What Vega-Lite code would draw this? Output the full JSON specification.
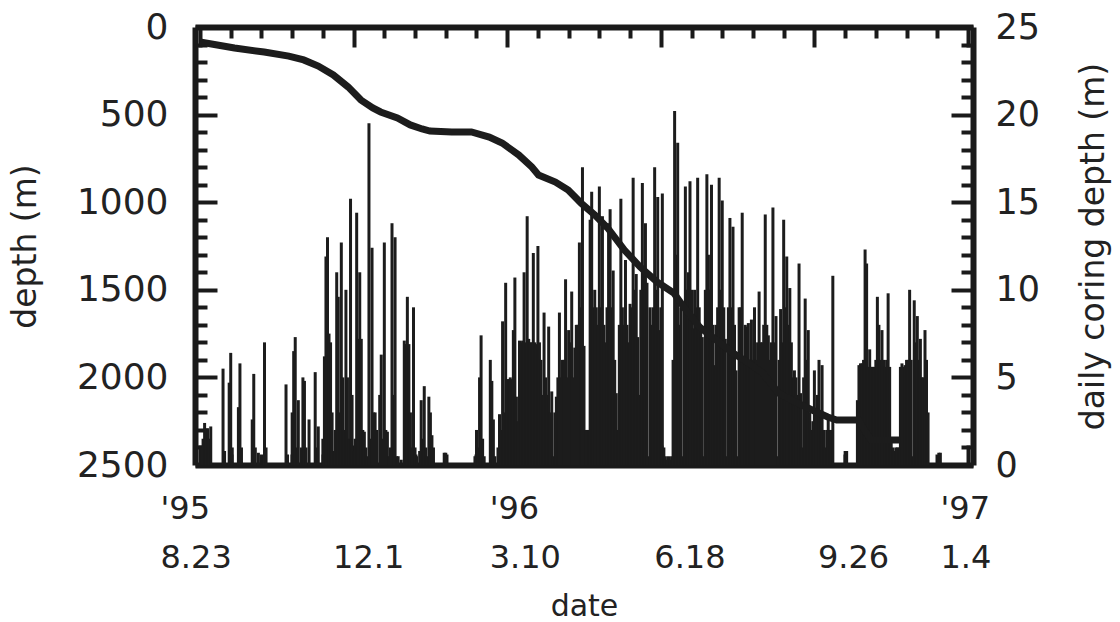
{
  "$schema": "https://vega.github.io/schema/vega-lite/v6.json",
  "width": 778,
  "height": 438,
  "autosize": "none",
  "padding": {"left": 195, "top": 27, "right": 147, "bottom": 157},
  "background": "white",
  "config": {
    "view": {"stroke": null},
    "font": "DejaVu Sans",
    "axis": {
      "grid": false,
      "zindex": 1,
      "domainColor": "#1a1a1a",
      "domainWidth": 6,
      "tickColor": "#1a1a1a",
      "tickWidth": 4,
      "labelFont": "DejaVu Sans",
      "labelColor": "#222222",
      "labelOverlap": false,
      "labelFlush": false,
      "labelBound": false,
      "titleFont": "DejaVu Sans",
      "titleFontWeight": "normal",
      "titleColor": "#222222",
      "titleFontSize": 33
    }
  },
  "datasets": {
    "daily": [
      {"day": 1, "coring": 1.0}, {"day": 2, "coring": 1.5}, {"day": 3, "coring": 2.4}, {"day": 4, "coring": 2.0}, {"day": 5, "coring": 2.1}, {"day": 6, "coring": 1.5}, {"day": 7, "coring": 2.2},
      {"day": 15, "coring": 5.5}, {"day": 16, "coring": 0.8}, {"day": 19, "coring": 4.7}, {"day": 20, "coring": 6.4}, {"day": 21, "coring": 1.0},
      {"day": 25, "coring": 3.3}, {"day": 26, "coring": 5.8}, {"day": 27, "coring": 1.0}, {"day": 34, "coring": 2.6}, {"day": 35, "coring": 5.2}, {"day": 36, "coring": 1.0},
      {"day": 38, "coring": 0.7}, {"day": 42, "coring": 7.0}, {"day": 43, "coring": 1.0},
      {"day": 56, "coring": 4.6}, {"day": 57, "coring": 0.6}, {"day": 60, "coring": 3.0}, {"day": 61, "coring": 6.5}, {"day": 62, "coring": 7.3}, {"day": 63, "coring": 1.0},
      {"day": 64, "coring": 3.7}, {"day": 66, "coring": 1.0}, {"day": 67, "coring": 5.0}, {"day": 68, "coring": 4.8}, {"day": 69, "coring": 1.0}, {"day": 71, "coring": 2.6},
      {"day": 75, "coring": 5.3}, {"day": 76, "coring": 1.0}, {"day": 77, "coring": 2.2}, {"day": 80, "coring": 1.5}, {"day": 81, "coring": 6.2}, {"day": 82, "coring": 11.9},
      {"day": 83, "coring": 13.0}, {"day": 84, "coring": 7.5}, {"day": 85, "coring": 7.0}, {"day": 86, "coring": 3.0}, {"day": 87, "coring": 0.8}, {"day": 88, "coring": 2.0},
      {"day": 89, "coring": 11.0}, {"day": 90, "coring": 9.6}, {"day": 91, "coring": 3.0}, {"day": 92, "coring": 12.7}, {"day": 93, "coring": 5.0}, {"day": 94, "coring": 2.0},
      {"day": 95, "coring": 10.0}, {"day": 96, "coring": 5.0}, {"day": 97, "coring": 1.5}, {"day": 98, "coring": 15.2}, {"day": 99, "coring": 4.0}, {"day": 100, "coring": 0.8},
      {"day": 101, "coring": 1.5}, {"day": 102, "coring": 14.4}, {"day": 103, "coring": 7.2}, {"day": 104, "coring": 11.0}, {"day": 105, "coring": 7.2}, {"day": 106, "coring": 2.0},
      {"day": 107, "coring": 1.9}, {"day": 108, "coring": 1.0}, {"day": 109, "coring": 0.5}, {"day": 110, "coring": 19.5}, {"day": 111, "coring": 1.5}, {"day": 112, "coring": 12.4},
      {"day": 113, "coring": 3.0}, {"day": 114, "coring": 3.0}, {"day": 115, "coring": 2.0}, {"day": 117, "coring": 4.0}, {"day": 118, "coring": 6.3}, {"day": 119, "coring": 1.5},
      {"day": 120, "coring": 12.7}, {"day": 121, "coring": 2.0}, {"day": 122, "coring": 1.9}, {"day": 123, "coring": 0.5}, {"day": 124, "coring": 1.0}, {"day": 125, "coring": 13.8},
      {"day": 126, "coring": 4.0}, {"day": 127, "coring": 13.0}, {"day": 128, "coring": 0.5}, {"day": 129, "coring": 0.5}, {"day": 131, "coring": 0.3}, {"day": 133, "coring": 7.1},
      {"day": 134, "coring": 6.9}, {"day": 135, "coring": 9.6}, {"day": 136, "coring": 6.9}, {"day": 137, "coring": 3.0}, {"day": 138, "coring": 1.0}, {"day": 139, "coring": 9.0},
      {"day": 140, "coring": 1.0}, {"day": 141, "coring": 0.5}, {"day": 143, "coring": 0.8}, {"day": 144, "coring": 3.7}, {"day": 145, "coring": 1.5}, {"day": 146, "coring": 4.5},
      {"day": 147, "coring": 1.0}, {"day": 148, "coring": 0.5}, {"day": 149, "coring": 3.9}, {"day": 150, "coring": 3.0}, {"day": 151, "coring": 1.7}, {"day": 152, "coring": 1.0},
      {"day": 159, "coring": 0.7}, {"day": 160, "coring": 0.7},
      {"day": 179, "coring": 0.5}, {"day": 180, "coring": 2.0}, {"day": 181, "coring": 1.0}, {"day": 182, "coring": 5.0}, {"day": 183, "coring": 7.4}, {"day": 184, "coring": 1.5},
      {"day": 185, "coring": 0.5}, {"day": 189, "coring": 6.0}, {"day": 190, "coring": 4.8}, {"day": 191, "coring": 2.6}, {"day": 192, "coring": 0.5}, {"day": 194, "coring": 1.0},
      {"day": 195, "coring": 2.9}, {"day": 196, "coring": 2.0}, {"day": 197, "coring": 8.2}, {"day": 198, "coring": 3.0}, {"day": 199, "coring": 10.4}, {"day": 200, "coring": 4.9},
      {"day": 201, "coring": 4.9}, {"day": 202, "coring": 5.0}, {"day": 203, "coring": 4.9}, {"day": 204, "coring": 7.7}, {"day": 205, "coring": 10.7}, {"day": 206, "coring": 3.9},
      {"day": 207, "coring": 2.5}, {"day": 208, "coring": 7.1}, {"day": 209, "coring": 7.0}, {"day": 210, "coring": 7.1}, {"day": 211, "coring": 11.0}, {"day": 212, "coring": 7.0},
      {"day": 213, "coring": 14.2}, {"day": 214, "coring": 7.2}, {"day": 215, "coring": 7.0}, {"day": 216, "coring": 7.0}, {"day": 217, "coring": 12.1}, {"day": 218, "coring": 7.0},
      {"day": 219, "coring": 6.9}, {"day": 220, "coring": 12.5}, {"day": 221, "coring": 7.0}, {"day": 222, "coring": 6.0}, {"day": 223, "coring": 4.0}, {"day": 224, "coring": 8.7},
      {"day": 225, "coring": 5.0}, {"day": 226, "coring": 4.0}, {"day": 227, "coring": 7.9}, {"day": 228, "coring": 3.0}, {"day": 229, "coring": 4.2}, {"day": 230, "coring": 0.5},
      {"day": 231, "coring": 3.0}, {"day": 232, "coring": 3.9}, {"day": 233, "coring": 5.0}, {"day": 234, "coring": 8.7}, {"day": 235, "coring": 5.0}, {"day": 236, "coring": 6.0},
      {"day": 237, "coring": 6.0}, {"day": 238, "coring": 10.6}, {"day": 239, "coring": 5.0}, {"day": 240, "coring": 7.7}, {"day": 241, "coring": 7.0}, {"day": 242, "coring": 9.9},
      {"day": 243, "coring": 5.0}, {"day": 244, "coring": 6.7}, {"day": 245, "coring": 8.0}, {"day": 246, "coring": 8.0}, {"day": 247, "coring": 12.7}, {"day": 248, "coring": 9.0},
      {"day": 249, "coring": 17.0}, {"day": 250, "coring": 6.8}, {"day": 251, "coring": 2.0}, {"day": 252, "coring": 2.0}, {"day": 253, "coring": 2.0}, {"day": 254, "coring": 14.0},
      {"day": 255, "coring": 15.6}, {"day": 256, "coring": 9.0}, {"day": 257, "coring": 10.0}, {"day": 258, "coring": 9.0}, {"day": 259, "coring": 8.0}, {"day": 260, "coring": 15.9},
      {"day": 261, "coring": 9.0}, {"day": 262, "coring": 14.2}, {"day": 263, "coring": 8.0}, {"day": 264, "coring": 7.0}, {"day": 265, "coring": 9.0}, {"day": 266, "coring": 13.8},
      {"day": 267, "coring": 14.6}, {"day": 268, "coring": 9.0}, {"day": 269, "coring": 11.1}, {"day": 270, "coring": 6.0}, {"day": 271, "coring": 4.1}, {"day": 272, "coring": 2.0},
      {"day": 273, "coring": 8.0}, {"day": 274, "coring": 15.2}, {"day": 275, "coring": 9.0}, {"day": 276, "coring": 8.0}, {"day": 277, "coring": 11.7}, {"day": 278, "coring": 8.0},
      {"day": 279, "coring": 7.0}, {"day": 280, "coring": 9.2}, {"day": 281, "coring": 9.0}, {"day": 282, "coring": 16.4}, {"day": 283, "coring": 10.0}, {"day": 284, "coring": 10.9},
      {"day": 285, "coring": 7.3}, {"day": 286, "coring": 4.0}, {"day": 287, "coring": 10.0}, {"day": 288, "coring": 16.1}, {"day": 289, "coring": 11.0}, {"day": 290, "coring": 13.8},
      {"day": 291, "coring": 10.4}, {"day": 292, "coring": 0.5}, {"day": 293, "coring": 9.0}, {"day": 294, "coring": 8.0}, {"day": 295, "coring": 9.0}, {"day": 296, "coring": 17.0},
      {"day": 297, "coring": 10.0}, {"day": 298, "coring": 15.3}, {"day": 299, "coring": 7.7}, {"day": 300, "coring": 9.0}, {"day": 301, "coring": 15.5}, {"day": 302, "coring": 1.0},
      {"day": 303, "coring": 0.5}, {"day": 304, "coring": 0.3}, {"day": 305, "coring": 0.5}, {"day": 306, "coring": 0.3}, {"day": 307, "coring": 0.5}, {"day": 308, "coring": 6.0},
      {"day": 309, "coring": 20.2}, {"day": 310, "coring": 12.0}, {"day": 311, "coring": 18.4}, {"day": 312, "coring": 8.0}, {"day": 313, "coring": 9.0}, {"day": 314, "coring": 0.5},
      {"day": 315, "coring": 9.0}, {"day": 316, "coring": 15.9}, {"day": 317, "coring": 10.0}, {"day": 318, "coring": 11.0}, {"day": 319, "coring": 16.2}, {"day": 320, "coring": 10.0},
      {"day": 321, "coring": 7.8}, {"day": 322, "coring": 10.0}, {"day": 323, "coring": 9.0}, {"day": 324, "coring": 16.4}, {"day": 325, "coring": 9.0}, {"day": 326, "coring": 8.0},
      {"day": 327, "coring": 7.3}, {"day": 328, "coring": 0.5}, {"day": 329, "coring": 10.0}, {"day": 330, "coring": 16.6}, {"day": 331, "coring": 12.0}, {"day": 332, "coring": 10.0},
      {"day": 333, "coring": 16.0}, {"day": 334, "coring": 8.0}, {"day": 335, "coring": 5.7}, {"day": 336, "coring": 8.0}, {"day": 337, "coring": 9.0}, {"day": 338, "coring": 16.4},
      {"day": 339, "coring": 10.0}, {"day": 340, "coring": 15.1}, {"day": 341, "coring": 9.0}, {"day": 342, "coring": 7.2}, {"day": 343, "coring": 0.5}, {"day": 344, "coring": 9.0},
      {"day": 345, "coring": 14.1}, {"day": 346, "coring": 9.0}, {"day": 347, "coring": 13.6}, {"day": 348, "coring": 8.0}, {"day": 349, "coring": 5.4}, {"day": 350, "coring": 0.5},
      {"day": 351, "coring": 9.0}, {"day": 352, "coring": 9.0}, {"day": 353, "coring": 14.4}, {"day": 354, "coring": 6.0}, {"day": 355, "coring": 8.0}, {"day": 356, "coring": 7.9},
      {"day": 357, "coring": 8.1}, {"day": 358, "coring": 6.0}, {"day": 359, "coring": 8.3}, {"day": 360, "coring": 6.0}, {"day": 361, "coring": 9.0}, {"day": 362, "coring": 6.0},
      {"day": 363, "coring": 7.0}, {"day": 364, "coring": 9.9}, {"day": 365, "coring": 7.0}, {"day": 366, "coring": 7.0}, {"day": 367, "coring": 8.0}, {"day": 368, "coring": 14.3},
      {"day": 369, "coring": 8.0}, {"day": 370, "coring": 7.4}, {"day": 371, "coring": 6.0}, {"day": 372, "coring": 7.0}, {"day": 373, "coring": 14.7}, {"day": 374, "coring": 7.0},
      {"day": 375, "coring": 8.5}, {"day": 376, "coring": 0.5}, {"day": 377, "coring": 6.0}, {"day": 378, "coring": 8.9}, {"day": 379, "coring": 7.0}, {"day": 380, "coring": 14.0},
      {"day": 381, "coring": 9.0}, {"day": 382, "coring": 11.9}, {"day": 383, "coring": 8.0}, {"day": 384, "coring": 10.1}, {"day": 385, "coring": 7.0}, {"day": 386, "coring": 5.0},
      {"day": 387, "coring": 5.4}, {"day": 388, "coring": 5.0}, {"day": 389, "coring": 4.0}, {"day": 390, "coring": 11.5}, {"day": 391, "coring": 4.1}, {"day": 392, "coring": 1.0},
      {"day": 393, "coring": 5.0}, {"day": 394, "coring": 9.5}, {"day": 395, "coring": 6.0}, {"day": 396, "coring": 7.7}, {"day": 397, "coring": 3.0}, {"day": 398, "coring": 2.0},
      {"day": 399, "coring": 2.5}, {"day": 400, "coring": 5.4}, {"day": 401, "coring": 3.0}, {"day": 402, "coring": 4.0}, {"day": 403, "coring": 6.0}, {"day": 404, "coring": 3.0},
      {"day": 405, "coring": 5.7}, {"day": 406, "coring": 2.0}, {"day": 407, "coring": 1.0}, {"day": 408, "coring": 2.0}, {"day": 409, "coring": 2.6}, {"day": 410, "coring": 2.0},
      {"day": 411, "coring": 2.0}, {"day": 412, "coring": 10.8}, {"day": 420, "coring": 0.8}, {"day": 421, "coring": 0.8},
      {"day": 428, "coring": 3.7}, {"day": 429, "coring": 5.7}, {"day": 430, "coring": 5.8}, {"day": 431, "coring": 5.8}, {"day": 432, "coring": 6.0}, {"day": 433, "coring": 12.3},
      {"day": 434, "coring": 11.5}, {"day": 435, "coring": 5.6}, {"day": 436, "coring": 6.6}, {"day": 437, "coring": 5.6}, {"day": 438, "coring": 5.6}, {"day": 439, "coring": 5.6},
      {"day": 440, "coring": 6.0}, {"day": 441, "coring": 9.6}, {"day": 442, "coring": 8.0}, {"day": 443, "coring": 6.0}, {"day": 444, "coring": 7.7}, {"day": 445, "coring": 6.0},
      {"day": 446, "coring": 5.6}, {"day": 447, "coring": 6.0}, {"day": 448, "coring": 9.8}, {"day": 449, "coring": 5.6}, {"day": 450, "coring": 1.5}, {"day": 451, "coring": 1.0},
      {"day": 452, "coring": 0.8}, {"day": 453, "coring": 1.0}, {"day": 454, "coring": 1.0}, {"day": 455, "coring": 1.0}, {"day": 456, "coring": 5.6}, {"day": 457, "coring": 5.8},
      {"day": 458, "coring": 5.6}, {"day": 459, "coring": 5.7}, {"day": 460, "coring": 6.0}, {"day": 461, "coring": 6.0}, {"day": 462, "coring": 10.0}, {"day": 463, "coring": 6.0},
      {"day": 464, "coring": 0.5}, {"day": 465, "coring": 9.4}, {"day": 466, "coring": 7.0}, {"day": 467, "coring": 8.5}, {"day": 468, "coring": 6.0}, {"day": 469, "coring": 7.2},
      {"day": 470, "coring": 5.0}, {"day": 471, "coring": 5.0}, {"day": 472, "coring": 7.7}, {"day": 473, "coring": 6.0}, {"day": 474, "coring": 3.0},
      {"day": 481, "coring": 0.7}, {"day": 482, "coring": 0.7}
    ],
    "cum": [
      {"day": 0, "depth": 86}, {"day": 22.5, "depth": 120}, {"day": 41.8, "depth": 143}, {"day": 57.8, "depth": 166}, {"day": 67.5, "depth": 188},
      {"day": 77, "depth": 223}, {"day": 86.8, "depth": 274}, {"day": 96.4, "depth": 342}, {"day": 104.8, "depth": 417}, {"day": 112.5, "depth": 462},
      {"day": 117.6, "depth": 485}, {"day": 128.5, "depth": 519}, {"day": 136.9, "depth": 559}, {"day": 144.6, "depth": 582}, {"day": 149.7, "depth": 594},
      {"day": 163.9, "depth": 599}, {"day": 176.7, "depth": 599}, {"day": 188.3, "depth": 628}, {"day": 196.7, "depth": 662}, {"day": 207.6, "depth": 731},
      {"day": 216, "depth": 799}, {"day": 220.4, "depth": 845}, {"day": 231.4, "depth": 885}, {"day": 239.7, "depth": 930}, {"day": 248.1, "depth": 1005},
      {"day": 257.1, "depth": 1073}, {"day": 265.4, "depth": 1147}, {"day": 276.3, "depth": 1273}, {"day": 286.6, "depth": 1370}, {"day": 297.6, "depth": 1455},
      {"day": 308.5, "depth": 1518}, {"day": 314.9, "depth": 1598}, {"day": 325.2, "depth": 1712}, {"day": 336.1, "depth": 1787}, {"day": 347, "depth": 1861},
      {"day": 357.3, "depth": 1918}, {"day": 366.3, "depth": 1975}, {"day": 376.6, "depth": 2089}, {"day": 387.5, "depth": 2140}, {"day": 398.5, "depth": 2186},
      {"day": 408.7, "depth": 2226}, {"day": 414.5, "depth": 2243}, {"day": 428.7, "depth": 2243}, {"day": 432.5, "depth": 2300}, {"day": 437, "depth": 2357},
      {"day": 456.3, "depth": 2357}
    ]
  },
  "layer": [
    {
      "data": {"name": "daily"},
      "mark": {"type": "bar", "color": "#1c1c1c", "size": 3},
      "encoding": {
        "x": {
          "field": "day",
          "type": "quantitative",
          "scale": {"domain": [0, 500], "nice": false, "zero": false},
          "axis": {
            "orient": "bottom",
            "title": "date",
            "values": [0, 20, 40, 60, 80, 100, 120, 140, 160, 180, 200, 220, 240, 260, 280, 300, 320, 340, 360, 380, 400, 420, 440, 460, 480, 500],
            "labelExpr": "datum.value === 0 ? [\"'95\", '8.23'] : datum.value === 100 ? [' ', '12.1'] : datum.value === 200 ? [\"'96\", '3.10'] : datum.value === 300 ? [' ', '6.18'] : datum.value === 400 ? [' ', '9.26'] : datum.value === 500 ? [\"'97\", '1.4'] : ''",
            "labelAlign": "left",
            "labelBaseline": "top",
            "labelFontSize": 32,
            "labelLineHeight": 49,
            "labelPadding": 48,
            "labelOffset": {
              "condition": [
                {"test": "datum.value === 0", "value": -40},
                {"test": "datum.value === 100", "value": -21},
                {"test": "datum.value === 200", "value": -18},
                {"test": "datum.value === 300", "value": -7},
                {"test": "datum.value === 400", "value": 3}
              ],
              "value": -28
            },
            "tickSize": {"condition": {"test": "datum.value % 100 === 0", "value": -20}, "value": -11},
            "titleFontSize": 30,
            "titlePadding": 18
          }
        },
        "y": {
          "field": "coring",
          "type": "quantitative",
          "scale": {"domain": [0, 25], "nice": false},
          "axis": {
            "orient": "right",
            "title": "daily coring depth (m)",
            "titleAngle": 270,
            "titleBaseline": "top",
            "titlePadding": 38,
            "values": [0, 1, 2, 3, 4, 5, 6, 7, 8, 9, 10, 11, 12, 13, 14, 15, 16, 17, 18, 19, 20, 21, 22, 23, 24, 25],
            "format": "d",
            "labelExpr": "datum.value % 5 === 0 ? datum.label : ''",
            "labelFontSize": 35,
            "labelPadding": 44,
            "tickSize": {"condition": {"test": "datum.value % 5 === 0", "value": -22}, "value": -12}
          }
        }
      }
    },
    {
      "data": {"name": "cum"},
      "mark": {"type": "line", "color": "#1c1c1c", "strokeWidth": 7},
      "encoding": {
        "x": {
          "field": "day",
          "type": "quantitative",
          "scale": {"domain": [0, 500], "nice": false, "zero": false},
          "axis": {
            "orient": "top",
            "title": null,
            "labels": false,
            "values": [0, 20, 40, 60, 80, 100, 120, 140, 160, 180, 200, 220, 240, 260, 280, 300, 320, 340, 360, 380, 400, 420, 440, 460, 480, 500],
            "tickSize": {"condition": {"test": "datum.value % 100 === 0", "value": -20}, "value": -11}
          }
        },
        "y": {
          "field": "depth",
          "type": "quantitative",
          "scale": {"domain": [0, 2500], "reverse": true, "nice": false},
          "axis": {
            "orient": "left",
            "title": "depth (m)",
            "titlePadding": 34,
            "values": [0, 100, 200, 300, 400, 500, 600, 700, 800, 900, 1000, 1100, 1200, 1300, 1400, 1500, 1600, 1700, 1800, 1900, 2000, 2100, 2200, 2300, 2400, 2500],
            "format": "d",
            "labelExpr": "datum.value % 500 === 0 ? datum.label : ''",
            "labelFontSize": 36,
            "labelPadding": 49,
            "tickSize": {"condition": {"test": "datum.value % 500 === 0", "value": -22}, "value": -12}
          }
        }
      }
    }
  ],
  "resolve": {
    "scale": {"y": "independent"},
    "axis": {"x": "independent", "y": "independent"}
  }
}
